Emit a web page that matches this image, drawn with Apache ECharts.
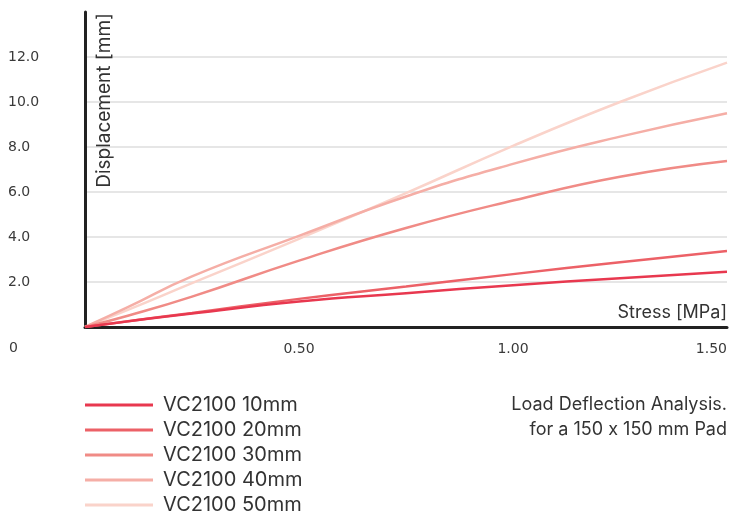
<!DOCTYPE html>
<html>
<head>
<meta charset="utf-8">
<script src="https://cdn.jsdelivr.net/npm/echarts@6/dist/echarts.min.js"></script>
<style>html,body{margin:0;padding:0;background:#fff}#c{width:730px;height:518px}</style>
</head>
<body>
<div id="c"></div>
<script>
// Data
var stress = [0, 0.1, 0.25, 0.5, 0.75, 1.0, 1.25, 1.5];
var vc10 = [0, 0.25, 0.6, 1.13, 1.5, 1.86, 2.17, 2.46];
var vc20 = [0, 0.26, 0.62, 1.25, 1.8, 2.35, 2.88, 3.38];
var vc30 = [0, 0.5, 1.35, 2.95, 4.4, 5.62, 6.68, 7.38];
var vc40 = [0, 0.88, 2.25, 4.05, 5.8, 7.25, 8.46, 9.5];
var vc50 = [0, 0.76, 1.95, 3.92, 5.95, 8.05, 10.0, 11.75];
var seriesNames = ['VC2100 10mm', 'VC2100 20mm', 'VC2100 30mm', 'VC2100 40mm', 'VC2100 50mm'];
var xTicks = ['0.50', '1.00', '1.50'];
var yTicks = ['2.0', '4.0', '6.0', '8.0', '10.0', '12.0'];
var noteLines = ['Load Deflection Analysis.', 'for a 150 x 150 mm Pad'];
var colors = ['#e8384f', '#ec6167', '#f08b86', '#f5aea6', '#fad3ca'];

var values = [vc10, vc20, vc30, vc40, vc50];
function pairs(arr) { return stress.map(function (s, i) { return [s, arr[i]]; }); }

var FONT = 'Inter';
var TICKFONT = 'DejaVu Sans';
var chart = echarts.init(document.getElementById('c'));
chart.setOption({
  animation: false,
  color: colors,
  grid: { left: 85, right: 3, top: 12, bottom: 191, containLabel: false },
  xAxis: {
    type: 'value', min: 0, max: 1.5, interval: 0.5,
    name: 'Stress [MPa]', nameLocation: 'end', nameGap: 0,
    nameTextStyle: { fontFamily: FONT, fontSize: 18, color: '#333', align: 'right', verticalAlign: 'bottom', padding: [0, 0, 5, 0] },
    axisLine: { show: true, lineStyle: { color: '#222', width: 3 } },
    axisTick: { show: false },
    splitLine: { show: false },
    axisLabel: {
      fontFamily: TICKFONT, fontSize: 14, color: '#3a3a3a', margin: 15,
      showMinLabel: false, alignMaxLabel: 'right',
      formatter: function (v) { var s = v.toFixed(2); return xTicks.indexOf(s) >= 0 ? s : ''; }
    }
  },
  yAxis: {
    type: 'value', min: 0, max: 14, interval: 2,
    name: 'Displacement [mm]', nameLocation: 'end', nameGap: -1, nameRotate: 90,
    nameTextStyle: { fontFamily: FONT, fontSize: 19, color: '#333', align: 'right', verticalAlign: 'top', padding: [10, 0, 0, 0] },
    axisLine: { show: true, lineStyle: { color: '#222', width: 3 } },
    axisTick: { show: false },
    splitLine: { show: true, showMinLine: false, showMaxLine: false, lineStyle: { color: '#e6e6e6', width: 2 } },
    axisLabel: {
      fontFamily: TICKFONT, fontSize: 14, color: '#3a3a3a', margin: 77, align: 'left', verticalAlign: 'middle',
      padding: [0, 0, 7, 0],
      formatter: function (v) { var s = v.toFixed(1); return yTicks.indexOf(s) >= 0 ? s : ''; }
    }
  },
  legend: {
    orient: 'vertical', left: 85, top: 395, padding: 0, height: 122,
    icon: 'rect', itemWidth: 68, itemHeight: 3, itemGap: 5,
    textStyle: { fontFamily: FONT, fontSize: 20, color: '#333', lineHeight: 20, padding: [0, 0, 0, 5] },
    data: seriesNames
  },
  graphic: [
    { type: 'text', left: 9, top: 341, style: { text: '0', font: '14px "DejaVu Sans"', fill: '#3a3a3a' } },
    { type: 'text', right: 3, top: 396, style: { text: noteLines[0], font: '18px Inter', fill: '#333' } },
    { type: 'text', right: 3, top: 421, style: { text: noteLines[1], font: '18px Inter', fill: '#333' } }
  ],
  series: values.map(function (arr, i) {
    return {
      name: seriesNames[i], type: 'line', smooth: true, symbol: 'none',
      lineStyle: { width: 2.5, color: colors[i] },
      z: 10 - i,
      data: pairs(arr)
    };
  })
});
</script>
</body>
</html>
